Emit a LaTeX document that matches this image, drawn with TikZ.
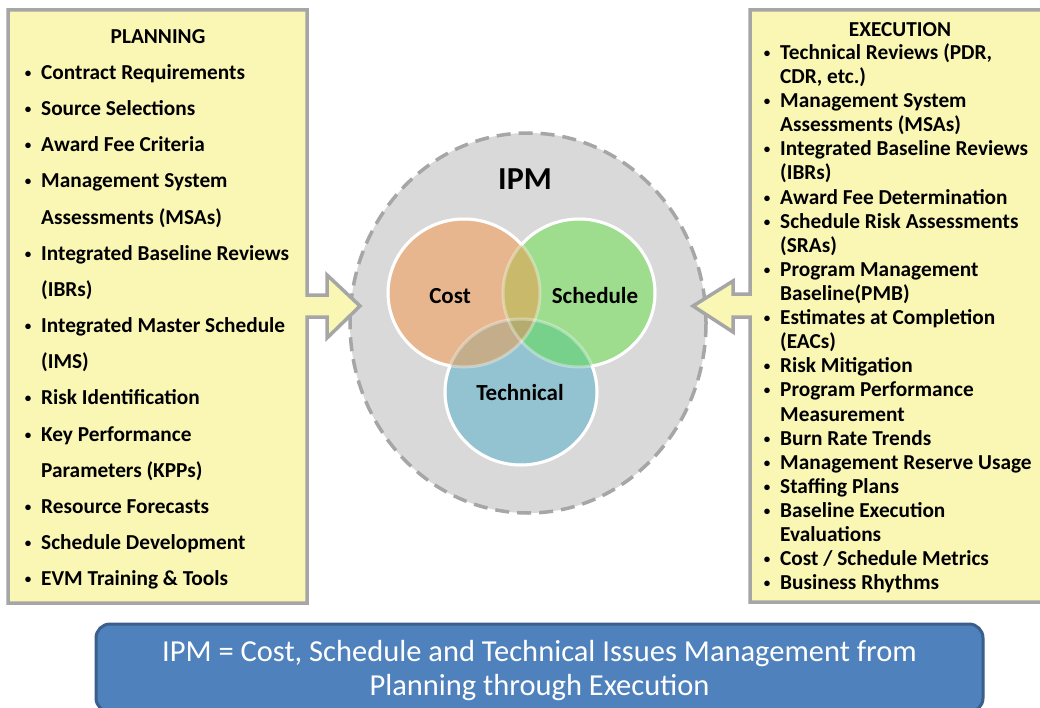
\documentclass[tikz,border=0pt]{standalone}
\usepackage{fontspec}
\setmainfont{Carlito}
\definecolor{boxyellow}{HTML}{FAF6B4}
\definecolor{boxgray}{HTML}{A6A6A6}
\definecolor{ipmgray}{HTML}{D9D9D9}
\definecolor{costc}{HTML}{E8B68E}
\definecolor{schedc}{HTML}{9EDC8E}
\definecolor{techc}{HTML}{93C2D0}
\definecolor{csc}{HTML}{C9B96B}
\definecolor{ctc}{HTML}{C4AD8A}
\definecolor{stc}{HTML}{78D18A}
\definecolor{cstc}{HTML}{B4AC6E}
\definecolor{noteblue}{HTML}{4F81BD}
\definecolor{noteedge}{HTML}{3A5F8C}
\tikzset{
  callout/.style={fill=boxyellow, draw=boxgray, line width=3.5pt, line join=miter},
  item/.style={anchor=base west, inner sep=0pt, font=\bfseries\fontsize{21.3}{21.3}\selectfont},
  bul/.style={anchor=base, inner sep=0pt, yshift=2pt, font=\bfseries\fontsize{13}{13}\selectfont},
  head/.style={anchor=base, inner sep=0pt, font=\bfseries\fontsize{21.3}{21.3}\selectfont},
  lbl/.style={inner sep=0pt, font=\bfseries\fontsize{23}{23}\selectfont},
  venborder/.style={draw=white, line width=3pt},
  notebox/.style={draw=noteedge, fill=noteblue, line width=3pt, rounded corners=14pt,
    minimum width=887pt, minimum height=88pt, inner sep=0pt},
  notetext/.style={anchor=base, inner sep=0pt, text=white, font=\fontsize{30.5}{30.5}\selectfont},
}
\newcommand{\CostE}{(464,293) ellipse [x radius=76, y radius=74]}
\newcommand{\SchedE}{(579,293) ellipse [x radius=76, y radius=74]}
\newcommand{\TechE}{(521,392) ellipse [x radius=76, y radius=73]}
\newcommand{\RevRect}{(0,0) -- (0,708) -- (1040,708) -- (1040,0) -- cycle}
\begin{document}
\begin{tikzpicture}[x=1pt,y=-1pt]
\useasboundingbox (0,0) rectangle (1040,708);
\fill[white] (0,0) rectangle (1040,708);

% IPM ellipse
\path[fill=ipmgray, draw=boxgray, line width=3.5pt, dash pattern=on 14pt off 8pt]
  (528,323) ellipse [x radius=178, y radius=190];
\node[inner sep=0pt, font=\bfseries\fontsize{32}{32}\selectfont] (ipm) at (525,179) {IPM};

% Venn fills
\fill[costc] \CostE;
\fill[schedc] \SchedE;
\fill[techc] \TechE;
\begin{scope}\clip \CostE; \fill[csc] \SchedE; \end{scope}
\begin{scope}\clip \CostE; \fill[ctc] \TechE; \end{scope}
\begin{scope}\clip \SchedE; \fill[stc] \TechE; \end{scope}
\begin{scope}\clip \CostE; \clip \SchedE; \fill[cstc] \TechE; \end{scope}
% faint inner borders
\draw[venborder, draw opacity=0.35] \CostE;
\draw[venborder, draw opacity=0.35] \SchedE;
\draw[venborder, draw opacity=0.35] \TechE;
% outer borders
\begin{scope}
  \clip \RevRect \SchedE; \clip \RevRect \TechE;
  \draw[venborder] \CostE;
\end{scope}
\begin{scope}
  \clip \RevRect \CostE; \clip \RevRect \TechE;
  \draw[venborder] \SchedE;
\end{scope}
\begin{scope}
  \clip \RevRect \CostE; \clip \RevRect \SchedE;
  \draw[venborder] \TechE;
\end{scope}
\node[lbl] (cost) at (450,296) {Cost};
\node[lbl] (sched) at (595,296) {Schedule};
\node[lbl] (tech) at (520,393) {Technical};

% Planning callout
\draw[callout] (8,10) -- (307,10) -- (307,295) -- (327,295) -- (327,275) -- (360,306)
  -- (327,338) -- (327,317) -- (307,317) -- (307,603) -- (8,603) -- cycle;
% Execution callout
\draw[callout] (1050,10) -- (750,10) -- (750,294) -- (733,294) -- (733,281) -- (693,306)
  -- (733,332) -- (733,317) -- (750,317) -- (750,602) -- (1050,602);

\node[head] (planning) at (158,43.5) {PLANNING};
\node[bul] (lb0) at (28,79.5) {•};   \node[item] (l0) at (41,79.5) {Contract Requirements};
\node[bul] (lb1) at (28,115.6) {•};  \node[item] (l1) at (41,115.6) {Source Selections};
\node[bul] (lb2) at (28,151.8) {•};  \node[item] (l2) at (41,151.8) {Award Fee Criteria};
\node[bul] (lb3) at (28,188) {•};    \node[item] (l3) at (41,188) {Management System};
                                      \node[item] (l4) at (41,224.1) {Assessments (MSAs)};
\node[bul] (lb5) at (28,260.3) {•};  \node[item] (l5) at (41,260.3) {Integrated Baseline Reviews};
                                      \node[item] (l6) at (41,296.4) {(IBRs)};
\node[bul] (lb7) at (28,332.6) {•};  \node[item] (l7) at (41,332.6) {Integrated Master Schedule};
                                      \node[item] (l8) at (41,368.7) {(IMS)};
\node[bul] (lb9) at (28,404.9) {•};  \node[item] (l9) at (41,404.9) {Risk Identification};
\node[bul] (lb10) at (28,441) {•};   \node[item] (l10) at (41,441) {Key Performance};
                                      \node[item] (l11) at (41,477.2) {Parameters (KPPs)};
\node[bul] (lb12) at (28,513.3) {•}; \node[item] (l12) at (41,513.3) {Resource Forecasts};
\node[bul] (lb13) at (28,549.5) {•}; \node[item] (l13) at (41,549.5) {Schedule Development};
\node[bul] (lb14) at (28,585.6) {•}; \node[item] (l14) at (41,585.6) {EVM Training \& Tools};

\node[head] (execution) at (900,36.5) {EXECUTION};
\node[bul] (rb0) at (767,59.5) {•};  \node[item] (r0) at (780,59.5) {Technical Reviews (PDR,};
                                      \node[item] (r1) at (780,83.6) {CDR, etc.)};
\node[bul] (rb2) at (767,107.7) {•}; \node[item] (r2) at (780,107.7) {Management System};
                                      \node[item] (r3) at (780,131.8) {Assessments (MSAs)};
\node[bul] (rb4) at (767,155.9) {•}; \node[item] (r4) at (780,155.9) {Integrated Baseline Reviews};
                                      \node[item] (r5) at (780,180) {(IBRs)};
\node[bul] (rb6) at (767,204.1) {•}; \node[item] (r6) at (780,204.1) {Award Fee Determination};
\node[bul] (rb7) at (767,228.2) {•}; \node[item] (r7) at (780,228.2) {Schedule Risk Assessments};
                                      \node[item] (r8) at (780,252.3) {(SRAs)};
\node[bul] (rb9) at (767,276.4) {•}; \node[item] (r9) at (780,276.4) {Program Management};
                                      \node[item] (r10) at (780,300.5) {Baseline(PMB)};
\node[bul] (rb11) at (767,324.6) {•}; \node[item] (r11) at (780,324.6) {Estimates at Completion};
                                      \node[item] (r12) at (780,348.7) {(EACs)};
\node[bul] (rb13) at (767,372.8) {•}; \node[item] (r13) at (780,372.8) {Risk Mitigation};
\node[bul] (rb14) at (767,396.9) {•}; \node[item] (r14) at (780,396.9) {Program Performance};
                                      \node[item] (r15) at (780,421) {Measurement};
\node[bul] (rb16) at (767,445.1) {•}; \node[item] (r16) at (780,445.1) {Burn Rate  Trends};
\node[bul] (rb17) at (767,469.2) {•}; \node[item] (r17) at (780,469.2) {Management Reserve Usage};
\node[bul] (rb18) at (767,493.3) {•}; \node[item] (r18) at (780,493.3) {Staffing Plans};
\node[bul] (rb19) at (767,517.4) {•}; \node[item] (r19) at (780,517.4) {Baseline Execution};
                                      \node[item] (r20) at (780,541.5) {Evaluations};
\node[bul] (rb21) at (767,565.6) {•}; \node[item] (r21) at (780,565.6) {Cost / Schedule Metrics};
\node[bul] (rb22) at (767,589.7) {•}; \node[item] (r22) at (780,589.7) {Business Rhythms};

% bottom note
\node[notebox] (note) at (539.5,668) {};
\node[notetext] (noteA) at (539.5,661) {IPM = Cost, Schedule and Technical Issues Management from};
\node[notetext] (noteB) at (539.5,695) {Planning through Execution};
\end{tikzpicture}
\end{document}
